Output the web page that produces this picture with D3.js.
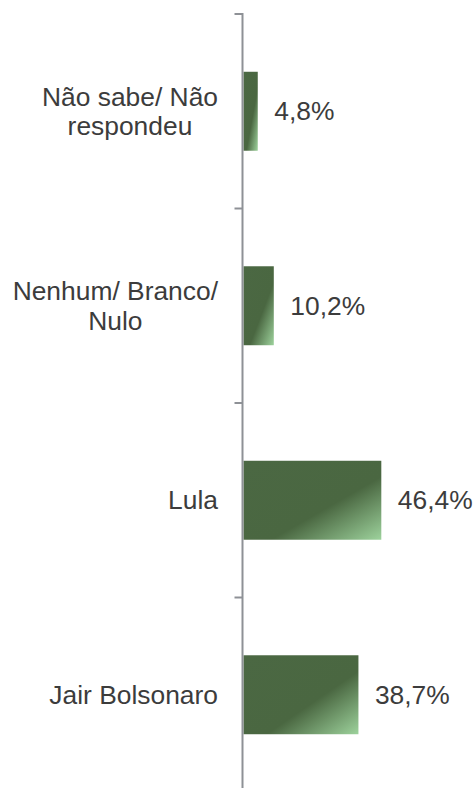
<!DOCTYPE html>
<html><head><meta charset="utf-8">
<script src="https://cdn.jsdelivr.net/npm/d3@7"></script>
<style>html,body{margin:0;padding:0;background:#fff;}svg{display:block;}</style>
</head><body>
<svg id="chart" width="475" height="788"></svg>
<script>
const categories = ["Não sabe/ Não respondeu", "Nenhum/ Branco/ Nulo", "Lula", "Jair Bolsonaro"];
const labelLines = [["Não sabe/ Não", "respondeu"], ["Nenhum/ Branco/", "Nulo"], ["Lula"], ["Jair Bolsonaro"]];
const values = [4.8, 10.2, 46.4, 38.7];
const valueLabels = ["4,8%", "10,2%", "46,4%", "38,7%"];

const svg = d3.select("#chart");
const axisX = 242.5;
const x = d3.scaleLinear().domain([0, 50]).range([axisX + 1, axisX + 1 + 148.5]);
const y = d3.scaleBand().domain(categories).range([14, 14 + 194.5 * 4]).paddingInner(0.594).paddingOuter(0.297);
const step = y.step();
const boundaryStart = y.range()[0];

const defs = svg.append("defs");
const grad = defs.append("linearGradient").attr("id", "g").attr("x1", 0).attr("y1", 0).attr("x2", 1).attr("y2", 1);
grad.append("stop").attr("offset", 0).attr("stop-color", "#4b6843");
grad.append("stop").attr("offset", 0.6).attr("stop-color", "#4a6741");
grad.append("stop").attr("offset", 1).attr("stop-color", "#9dd29c");

// bars
svg.selectAll("rect.bar").data(categories).enter().append("rect")
  .attr("class", "bar")
  .attr("x", x(0))
  .attr("y", d => y(d))
  .attr("width", (d, i) => x(values[i]) - x(0))
  .attr("height", y.bandwidth())
  .attr("fill", "url(#g)");

// axis line and ticks at band boundaries
const axisColor = "#8e9196";
svg.append("line").attr("x1", axisX).attr("x2", axisX).attr("y1", boundaryStart - 1).attr("y2", 788)
  .attr("stroke", axisColor).attr("stroke-width", 2);
const tickPos = d3.range(categories.length + 1).map(i => boundaryStart + i * step);
svg.selectAll("line.tick").data(tickPos).enter().append("line")
  .attr("x1", axisX - 8).attr("x2", axisX).attr("y1", d => d).attr("y2", d => d)
  .attr("stroke", axisColor).attr("stroke-width", 2);

// category labels
const font = "'Liberation Sans', Arial, sans-serif";
const fs = 26.4;
const lineH = 29.5;
const textColor = "#3c3c3c";
categories.forEach((c, i) => {
  const cy = y(c) + y.bandwidth() / 2;
  const lines = labelLines[i];
  const g = svg.append("text")
    .attr("font-family", font).attr("font-size", fs).attr("fill", textColor)
    .attr("text-anchor", "middle");
  const temp = svg.append("text").attr("font-family", font).attr("font-size", fs);
  let maxW = 0;
  lines.forEach(l => { temp.text(l); maxW = Math.max(maxW, temp.node().getComputedTextLength()); });
  temp.remove();
  const cx = 218 - maxW / 2;
  const firstBase = cy + 9 - (lines.length - 1) * lineH / 2;
  lines.forEach((l, j) => {
    g.append("tspan").attr("x", cx).attr("y", firstBase + j * lineH).text(l);
  });
});

// value labels
svg.selectAll("text.val").data(categories).enter().append("text")
  .attr("class", "val")
  .attr("x", (d, i) => x(values[i]) + 16.5)
  .attr("y", d => y(d) + y.bandwidth() / 2 + 9)
  .attr("font-family", font).attr("font-size", fs).attr("fill", textColor)
  .text((d, i) => valueLabels[i]);
</script>
</body></html>
